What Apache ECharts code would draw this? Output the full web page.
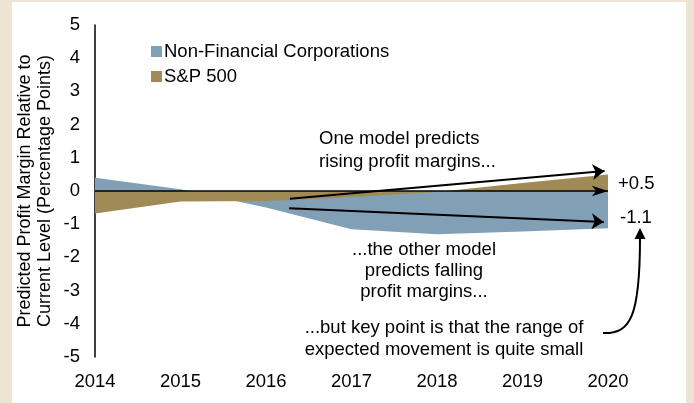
<!DOCTYPE html>
<html>
<head>
<meta charset="utf-8">
<script src="https://cdn.jsdelivr.net/npm/echarts@6/dist/echarts.min.js"></script>
<style>
html,body{margin:0;padding:0;background:#EEE4D2;}
#chart{width:694px;height:403px;}
</style>
</head>
<body>
<div id="chart"></div>
<script>
const years = [2014, 2015, 2016, 2017, 2018, 2019, 2020];
const nonFinancial = [0.40, 0.05, -0.50, -1.15, -1.30, -1.22, -1.12];
const sp500 = [-0.68, -0.32, -0.30, -0.18, -0.03, 0.24, 0.50];
const seriesNames = ['Non-Financial Corporations', 'S&P 500'];
const yMin = -5, yMax = 5, yStep = 1;
// arrow endpoints in data units
const risingArrow = [[2016.28, -0.23], [2019.96, 0.60]];
const fallingArrow = [[2016.27, -0.52], [2019.95, -0.93]];

const FONT = '"Liberation Sans", Arial, sans-serif';
const FS = 18.5;
const chart = echarts.init(document.getElementById('chart'));

function pairs(xs, ys) { return xs.map((x, i) => [x, ys[i]]); }

const option = {
  animation: false,
  backgroundColor: '#EEE4D2',
  textStyle: { fontFamily: FONT, color: '#000' },
  grid: { left: 95, right: 86, top: 25, bottom: 46 },
  legend: {
    orient: 'vertical', left: 146, top: 37, itemGap: 6,
    itemWidth: 11, itemHeight: 11, icon: 'rect',
    textStyle: { fontSize: FS, color: '#000', fontFamily: FONT, padding: [0, 0, 0, -3] },
    data: seriesNames
  },
  xAxis: {
    type: 'value', min: years[0], max: years[years.length - 1], interval: 1,
    axisLine: { show: false }, axisTick: { show: false }, splitLine: { show: false },
    axisLabel: { fontSize: FS, color: '#000', margin: 15, formatter: v => String(v) }
  },
  yAxis: {
    type: 'value', min: yMin, max: yMax, interval: yStep,
    name: 'Predicted Profit Margin Relative to\nCurrent Level (Percentage Points)',
    nameLocation: 'middle', nameGap: 40, nameMoveOverlap: false,
    nameTextStyle: { fontSize: 18, color: '#000', lineHeight: 20, fontFamily: FONT },
    axisLine: { show: true, lineStyle: { color: '#000', width: 1.5 } },
    axisTick: { show: false }, splitLine: { show: false },
    axisLabel: { fontSize: FS, color: '#000', margin: 15 }
  },
  series: [
    {
      name: seriesNames[0], type: 'line', data: pairs(years, nonFinancial),
      showSymbol: false, symbol: 'none', z: 2,
      itemStyle: { color: '#819FB5' },
      lineStyle: { width: 0 },
      areaStyle: { color: '#819FB5', opacity: 1 }
    },
    {
      name: seriesNames[1], type: 'line', data: pairs(years, sp500),
      showSymbol: false, symbol: 'none', z: 3,
      itemStyle: { color: '#A08A55' },
      lineStyle: { width: 0 },
      areaStyle: { color: '#A08A55', opacity: 1 },
      markLine: {
        silent: true, animation: false,
        label: { show: false },
        data: [
          { yAxis: 0, symbol: 'none', lineStyle: { color: '#000', width: 1.5, type: 'solid' } },
          [{ coord: risingArrow[0], symbol: 'none', lineStyle: { color: '#000', width: 2, type: 'solid' } },
           { coord: risingArrow[1], symbol: 'arrow', symbolSize: 12 }],
          [{ coord: fallingArrow[0], symbol: 'none', lineStyle: { color: '#000', width: 2, type: 'solid' } },
           { coord: fallingArrow[1], symbol: 'arrow', symbolSize: 12 }]
        ]
      }
    }
  ],
  graphic: [
    { type: 'rect', z: -10, silent: true, shape: { x: 12, y: 2, width: 674, height: 401 }, style: { fill: '#fff' } },
    { type: 'text', z: 10, style: { text: 'One model predicts\nrising profit margins...', x: 319, y: 127, font: FS + 'px ' + FONT, fill: '#000', textAlign: 'left', textVerticalAlign: 'top', lineHeight: 23 } },
    { type: 'text', z: 10, style: { text: '...the other model\npredicts falling\nprofit margins...', x: 424, y: 239, font: FS + 'px ' + FONT, fill: '#000', textAlign: 'center', textVerticalAlign: 'top', lineHeight: 21 } },
    { type: 'text', z: 10, style: { text: '...but key point is that the range of\nexpected movement is quite small', x: 444, y: 317, font: FS + 'px ' + FONT, fill: '#000', textAlign: 'center', textVerticalAlign: 'top', lineHeight: 22 } },
    { type: 'text', z: 10, style: { text: '+0.5', x: 618, y: 184, font: FS + 'px ' + FONT, fill: '#000', textAlign: 'left', textVerticalAlign: 'middle' } },
    { type: 'text', z: 10, style: { text: '-1.1', x: 620, y: 218, font: FS + 'px ' + FONT, fill: '#000', textAlign: 'left', textVerticalAlign: 'middle' } },
    { type: 'bezierCurve', z: 10, shape: { x1: 603, y1: 333, cpx1: 630, cpy1: 334, cpx2: 640, cpy2: 318, x2: 640, y2: 238 }, style: { stroke: '#000', lineWidth: 2, fill: null } },
    { type: 'polygon', z: 10, shape: { points: [[640, 228], [634.5, 239], [645.5, 239]] }, style: { fill: '#000' } }
  ]
};
chart.setOption(option);
</script>
</body>
</html>
